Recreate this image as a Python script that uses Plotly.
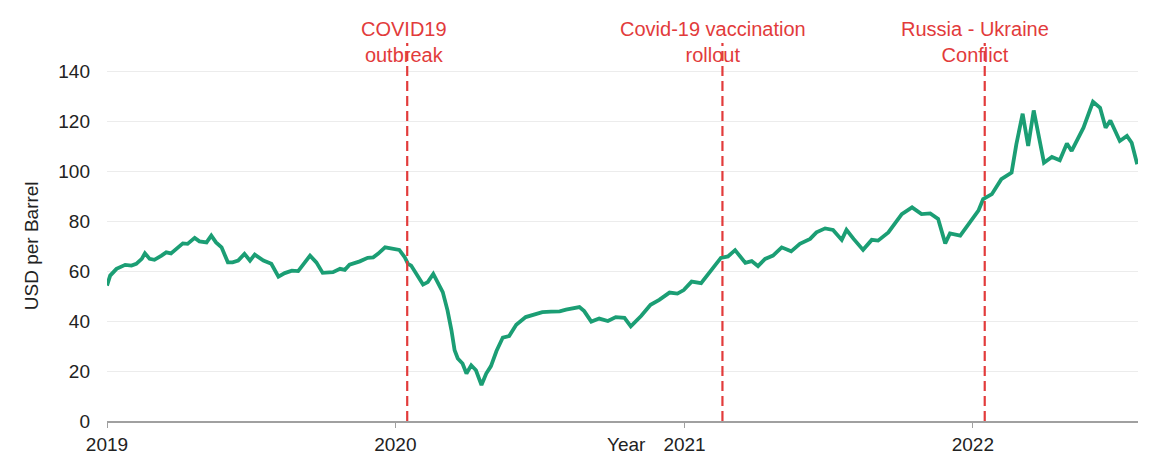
import plotly.graph_objects as go

dates = [
    "2019-01-01", "2019-01-05", "2019-01-13", "2019-01-24", "2019-02-01", "2019-02-07",
    "2019-02-14", "2019-02-18", "2019-02-24", "2019-03-02", "2019-03-11", "2019-03-17",
    "2019-03-23", "2019-04-01", "2019-04-07", "2019-04-13", "2019-04-22", "2019-04-28",
    "2019-05-07", "2019-05-13", "2019-05-19", "2019-05-26", "2019-06-03", "2019-06-09",
    "2019-06-16", "2019-06-24", "2019-07-01", "2019-07-07", "2019-07-18", "2019-07-28",
    "2019-08-06", "2019-08-14", "2019-08-23", "2019-08-31", "2019-09-08", "2019-09-15",
    "2019-09-23", "2019-10-01", "2019-10-14", "2019-10-23", "2019-10-29", "2019-11-04",
    "2019-11-17", "2019-11-27", "2019-12-04", "2019-12-10", "2019-12-19", "2019-12-27",
    "2020-01-06", "2020-01-13", "2020-01-17", "2020-01-21", "2020-01-30", "2020-02-05",
    "2020-02-11", "2020-02-18", "2020-03-01", "2020-03-07", "2020-03-12", "2020-03-16",
    "2020-03-20", "2020-03-26", "2020-03-31", "2020-04-06", "2020-04-12", "2020-04-19",
    "2020-04-25", "2020-05-01", "2020-05-08", "2020-05-16", "2020-05-24", "2020-06-02",
    "2020-06-14", "2020-06-25", "2020-07-05", "2020-07-16", "2020-07-27", "2020-08-04",
    "2020-08-12", "2020-08-21", "2020-08-27", "2020-09-05", "2020-09-15", "2020-09-26",
    "2020-10-06", "2020-10-17", "2020-10-25", "2020-11-07", "2020-11-19", "2020-11-30",
    "2020-12-13", "2020-12-23", "2020-12-31", "2021-01-10", "2021-01-22", "2021-02-04",
    "2021-02-16", "2021-02-25", "2021-03-06", "2021-03-19", "2021-03-27", "2021-04-04",
    "2021-04-13", "2021-04-23", "2021-05-04", "2021-05-16", "2021-05-27", "2021-06-09",
    "2021-06-17", "2021-06-28", "2021-07-08", "2021-07-19", "2021-07-25", "2021-08-03",
    "2021-08-15", "2021-08-26", "2021-09-03", "2021-09-16", "2021-09-24", "2021-10-03",
    "2021-10-16", "2021-10-28", "2021-11-08", "2021-11-18", "2021-11-27", "2021-12-03",
    "2021-12-16", "2021-12-28", "2022-01-08", "2022-01-14", "2022-01-25", "2022-02-06",
    "2022-02-19", "2022-02-25", "2022-03-05", "2022-03-12", "2022-03-19", "2022-04-01",
    "2022-04-11", "2022-04-21", "2022-04-30", "2022-05-06", "2022-05-21", "2022-06-02",
    "2022-06-11", "2022-06-18", "2022-06-24", "2022-07-06", "2022-07-15", "2022-07-21",
    "2022-07-28",
]

prices = [
    54.2, 58.2, 60.9, 62.5, 62.2, 62.9,
    64.9, 67.1, 64.9, 64.5, 66.2, 67.5,
    67.1, 69.5, 71.1, 70.9, 73.3, 71.9,
    71.5, 74.2, 71.5, 69.5, 63.5, 63.5,
    64.2, 66.9, 64.2, 66.6, 64.2, 62.9,
    57.8, 59.2, 60.2, 60.0, 63.5, 66.2,
    63.5, 59.3, 59.6, 60.9, 60.5, 62.6,
    63.9, 65.3, 65.5, 66.9, 69.5, 69.2,
    68.5, 65.5, 62.9, 62.2, 57.6, 54.6,
    55.6, 58.9, 51.6, 44.3, 36.3, 28.3,
    25.0, 23.0, 19.0, 22.3, 20.3, 14.4,
    19.0, 22.0, 28.0, 33.4, 34.0, 38.5,
    41.6, 42.8, 43.6, 43.8, 43.9, 44.6,
    45.0, 45.6, 44.0, 39.8, 41.0, 40.0,
    41.6, 41.3, 37.9, 42.0, 46.5, 48.5,
    51.4, 51.0, 52.4, 55.8, 55.2, 60.5,
    65.3, 65.9, 68.4, 63.3, 64.0, 62.0,
    64.9, 66.2, 69.5, 67.9, 70.9, 72.9,
    75.5, 77.1, 76.5, 72.5, 76.5, 72.9,
    68.5, 72.5, 72.2, 75.5, 78.8, 82.8,
    85.5, 82.8, 83.1, 80.9, 71.1, 75.1,
    74.2, 79.5, 84.2, 88.8, 90.8, 96.8,
    99.4, 110.7, 123.0, 110.1, 124.3, 103.4,
    105.7, 104.4, 111.1, 108.1, 117.4, 127.8,
    125.4, 117.4, 120.3, 112.1, 114.1, 111.4,
    102.8,
]

event_dates = ["2020-01-16", "2021-02-18", "2022-01-16"]
event_labels = ["COVID19<br>outbreak", "Covid-19 vaccination<br>rollout", "Russia - Ukraine<br>Conflict"]
event_shift = [-3, -9, -10]

tick_vals = ["2019-01-01", "2020-01-01", "2021-01-01", "2022-01-01"]
tick_text = ["2019", "2020", "2021", "2022"]
y_ticks = [0, 20, 40, 60, 80, 100, 120, 140]

RED = "#e23b3b"
FONT = "Liberation Sans, Arial, sans-serif"

fig = go.Figure()
fig.add_trace(go.Scatter(
    x=dates, y=prices, mode="lines",
    line=dict(color="#1b9e74", width=3.8),
    showlegend=False, hoverinfo="x+y",
))

for d, lab, sh in zip(event_dates, event_labels, event_shift):
    fig.add_shape(type="line", xref="x", yref="paper", x0=d, x1=d, y0=0, y1=1.077,
                  line=dict(color=RED, width=2.2, dash="10px,5px"), layer="above")
    fig.add_annotation(x=d, y=1.0, xref="x", yref="paper", text=lab, showarrow=False,
                       xanchor="center", yanchor="bottom", xshift=sh, yshift=2,
                       font=dict(family=FONT, size=20, color=RED), bgcolor="rgba(255,255,255,0)")

fig.add_annotation(x=-0.073, y=0.5, xref="paper", yref="paper", text="USD per Barrel",
                   textangle=-90, showarrow=False, xanchor="center", yanchor="middle",
                   font=dict(family=FONT, size=19, color="#222"))
fig.add_annotation(x=0.5034, y=-0.068, xref="paper", yref="paper", text="Year",
                   showarrow=False, xanchor="center", yanchor="middle",
                   font=dict(family=FONT, size=19, color="#222"))

fig.update_layout(
    width=1158, height=458,
    margin=dict(l=107, r=20, t=70, b=37, autoexpand=False),
    paper_bgcolor="white", plot_bgcolor="white",
    font=dict(family=FONT, size=19, color="#222"),
    xaxis=dict(
        type="date", range=["2019-01-01", "2022-07-29"],
        tickvals=tick_vals, ticktext=tick_text, automargin=False,
        showgrid=False, showline=True, linecolor="#a0a0a0", linewidth=2,
        ticks="outside", ticklen=5, tickcolor="#a0a0a0", tickwidth=1,
        tickfont=dict(family=FONT, size=19, color="#222"), zeroline=False,
    ),
    yaxis=dict(
        range=[0, 140.5], tickvals=y_ticks, automargin=False,
        showgrid=True, gridcolor="#ececec", gridwidth=1,
        zeroline=False, showline=False, ticks="",
        ticklabelstandoff=16,
        tickfont=dict(family=FONT, size=19, color="#222"),
    ),
)

fig.write_html("out.html")
